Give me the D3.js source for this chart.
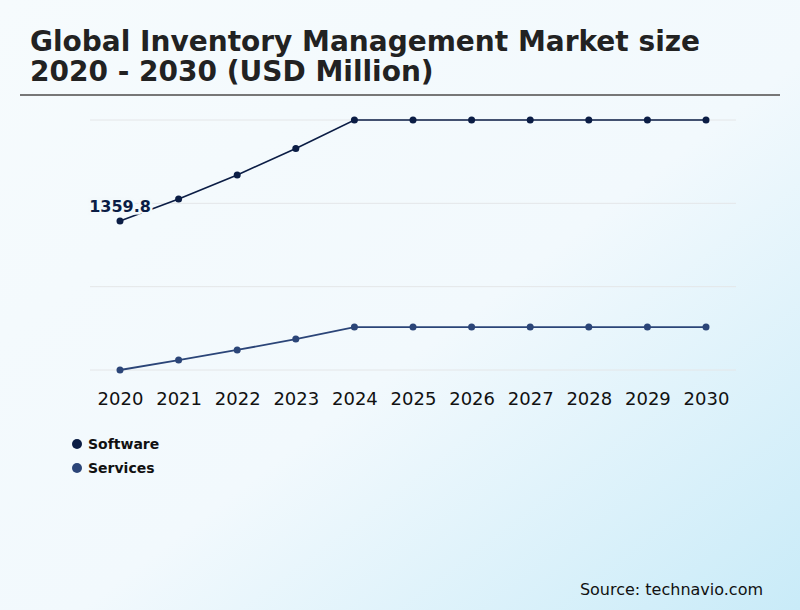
<!DOCTYPE html>
<html>
<head>
<meta charset="utf-8">
<script src="https://cdn.jsdelivr.net/npm/d3@7"></script>
<style>
  body { margin: 0; }
  svg { display: block; font-family: "DejaVu Sans", sans-serif; }
</style>
</head>
<body>
<svg id="chart"></svg>
<script>
var years = ['2020', '2021', '2022', '2023', '2024', '2025', '2026', '2027', '2028', '2029', '2030'];
var software = [1359.8, 1475, 1601, 1740, 1889, 1889, 1889, 1889, 1889, 1889, 1889];
var services = [579, 631, 684, 741, 804, 804, 804, 804, 804, 804, 804];
var seriesNames = ['Software', 'Services'];
var seriesColors = ['#0b1d45', '#2b4578'];

var width = 800, height = 610;
var svg = d3.select('#chart')
            .attr('width', width)
            .attr('height', height);

// background gradient
var grad = svg.append('defs')
              .append('linearGradient')
              .attr('id', 'bg')
              .attr('x1', '0%').attr('y1', '0%')
              .attr('x2', '100%').attr('y2', '100%');
grad.append('stop').attr('offset', '0%').attr('stop-color', '#f6fbfd');
grad.append('stop').attr('offset', '55%').attr('stop-color', '#f2f9fd');
grad.append('stop').attr('offset', '100%').attr('stop-color', '#c9ebf8');

svg.append('rect')
    .attr('width', width)
    .attr('height', height)
    .attr('fill', 'url(#bg)');

// title
var title = svg.append('text')
    .attr('x', 30)
    .attr('font-size', '28px')
    .attr('font-weight', 'bold')
    .attr('fill', '#222');
title.append('tspan').attr('x', 30).attr('y', 51).text('Global Inventory Management Market size');
title.append('tspan').attr('x', 30).attr('y', 81).text('2020 - 2030 (USD Million)');

svg.append('line')
    .attr('x1', 20).attr('x2', 780)
    .attr('y1', 95).attr('y2', 95)
    .attr('stroke', '#777')
    .attr('stroke-width', 2);

// scales
var x = d3.scalePoint()
          .domain(years)
          .range([120, 706]);

var all = software.concat(services);
var yMin = d3.min(all), yMax = d3.max(all);
var y = d3.scaleLinear()
          .domain([yMin, yMax])
          .range([370, 120]);

// gridlines
var gridVals = d3.range(4).map(i => yMin + i * (yMax - yMin) / 3);
svg.append('g')
    .selectAll('line')
    .data(gridVals)
    .enter()
    .append('line')
      .attr('x1', 90).attr('x2', 736)
      .attr('y1', d => y(d)).attr('y2', d => y(d))
      .attr('stroke', '#e4e6e8')
      .attr('stroke-width', 1);

// x axis labels
var xAxis = svg.append('g')
    .attr('transform', 'translate(0, 388)')
    .call(d3.axisBottom(x).tickSize(0).tickPadding(4));
xAxis.select('.domain').remove();
xAxis.selectAll('text')
    .attr('font-family', '"DejaVu Sans", sans-serif')
    .attr('font-size', '18px')
    .attr('fill', '#111');

// lines
var seriesData = [software, services];
var line = d3.line()
             .x((d, i) => x(years[i]))
             .y(d => y(d));

seriesData.forEach(function(vals, s) {
  var g = svg.append('g');
  g.append('path')
      .datum(vals)
      .attr('fill', 'none')
      .attr('stroke', seriesColors[s])
      .attr('stroke-width', s === 0 ? 1.6 : 1.8)
      .attr('d', line);
  g.selectAll('circle')
      .data(vals)
      .enter()
      .append('circle')
        .attr('cx', (d, i) => x(years[i]))
        .attr('cy', d => y(d))
        .attr('r', 3.5)
        .attr('fill', seriesColors[s]);
});

// first value label
svg.append('text')
    .attr('x', x(years[0]))
    .attr('y', y(software[0]) - 9)
    .attr('text-anchor', 'middle')
    .attr('font-size', '16px')
    .attr('font-weight', 'bold')
    .attr('fill', seriesColors[0])
    .attr('stroke', '#f3f9fc')
    .attr('stroke-width', 5)
    .attr('paint-order', 'stroke')
    .text(software[0]);

// legend
var legend = svg.append('g')
    .selectAll('g')
    .data(seriesNames)
    .enter()
    .append('g')
      .attr('transform', (d, i) => 'translate(77, ' + (444 + i * 24) + ')');
legend.append('circle')
    .attr('r', 5)
    .attr('fill', (d, i) => seriesColors[i]);
legend.append('text')
    .attr('x', 11)
    .attr('y', 5)
    .attr('font-size', '14px')
    .attr('font-weight', 'bold')
    .attr('fill', '#111')
    .text(d => d);

// source
svg.append('text')
    .attr('x', 763)
    .attr('y', 595)
    .attr('text-anchor', 'end')
    .attr('font-size', '16px')
    .attr('fill', '#111')
    .text('Source: technavio.com');
</script>
</body>
</html>
